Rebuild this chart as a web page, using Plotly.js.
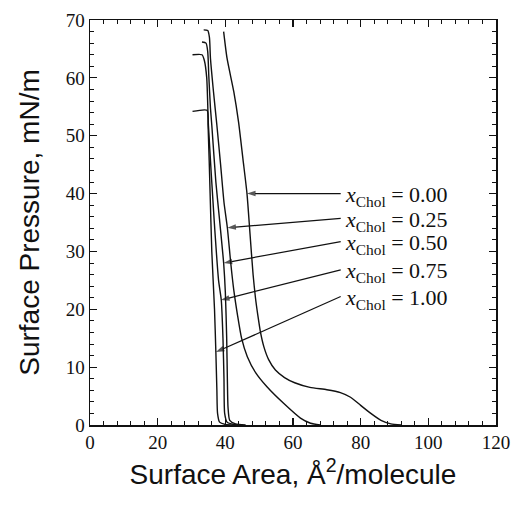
<!DOCTYPE html>
<html>
<head>
<meta charset="utf-8">
<script src="https://cdn.plot.ly/plotly-3.0.1.min.js"></script>
<style>html,body{margin:0;padding:0;background:#fff;}#chart{width:513px;height:505px;}</style>
</head>
<body>
<div id="chart"></div>
<script>
// Surface pressure–area isotherms (x_Chol series)
var seriesNames = ['0.00', '0.25', '0.50', '0.75', '1.00'];

var area000 = [39.5,40.5,42.5,43.9,45.2,46.4,47.3,48.2,48.9,49.6,50.4,51.4,52.8,54.8,57.5,60.5,65.0,70.0,74.0,77.0,80.0,83.0,86.0,88.9,92.0];
var pres000 = [68.0,63.4,57.6,52.4,46.0,40.0,33.0,26.0,22.0,19.0,16.0,13.5,11.3,9.5,8.2,7.3,6.5,6.1,5.6,4.8,3.4,2.0,0.8,0.2,0.0];

var area025 = [33.6,34.8,35.3,35.6,36.5,37.5,38.6,39.6,40.6,41.6,42.5,43.6,44.8,46.5,49.0,52.3,57.3,62.2,65.2,68.0];
var pres025 = [68.3,68.2,67.0,63.4,57.6,51.8,45.0,38.5,34.1,28.0,23.3,19.0,15.0,11.8,9.0,6.6,3.7,1.2,0.3,0.0];

var area050 = [33.1,34.3,34.8,35.1,35.6,36.0,37.2,38.3,39.5,40.0,40.4,40.6,40.8,41.3,43.0,46.0];
var pres050 = [66.2,66.0,64.5,60.5,54.8,51.8,42.0,35.4,28.0,23.0,15.0,8.0,3.0,0.8,0.2,0.0];

var area075 = [30.3,33.1,33.8,34.5,35.0,36.7,38.0,38.8,39.3,39.6,39.8,40.5,42.5,45.0];
var pres075 = [64.0,64.0,63.0,60.0,51.8,35.4,25.0,21.6,15.0,8.0,2.0,0.5,0.1,0.0];

var area100 = [30.3,34.6,34.9,35.5,36.0,36.8,37.2,37.5,37.7,38.3,40.0,43.0];
var pres100 = [54.2,54.4,51.8,40.0,30.0,20.0,12.6,6.0,2.0,0.5,0.1,0.0];

// arrow heads (on curves) and label anchor points
var arrowHeadX = [46.4, 40.6, 39.5, 38.7, 37.2];
var arrowHeadY = [40.0, 34.1, 28.0, 21.6, 12.6];
var arrowTailX = [74.1, 74.1, 74.1, 74.1, 74.1];
var arrowTailY = [40.0, 35.7, 31.7, 26.8, 22.2];

var xTickVals = [0, 20, 40, 60, 80, 100, 120];
var yTickVals = [0, 10, 20, 30, 40, 50, 60, 70];

var areas = [area000, area025, area050, area075, area100];
var press = [pres000, pres025, pres050, pres075, pres100];

var traces = seriesNames.map(function(n, i){
  return {
    x: areas[i], y: press[i], mode: 'lines', name: 'xChol = ' + n,
    line: {color: '#111', width: 1.4, shape: 'spline', smoothing: 0.6},
    hoverinfo: 'skip', showlegend: false
  };
});

// label arrows: line from label to curve, with an arrow-head marker at the curve end
seriesNames.forEach(function(n, i){
  traces.push({
    x: [arrowTailX[i], arrowHeadX[i]], y: [arrowTailY[i], arrowHeadY[i]],
    mode: 'lines+markers', hoverinfo: 'skip', showlegend: false,
    line: {color: '#111', width: 1.2},
    marker: {symbol: 'arrow', size: [0, 9], angleref: 'previous', color: '#111',
      line: {width: 0}}
  });
});

var annotations = seriesNames.map(function(n, i){
  return {
    x: arrowTailX[i] + 0.6, y: arrowTailY[i] - 0.4, xref: 'x', yref: 'y',
    xanchor: 'left', yanchor: 'middle', showarrow: false,
    text: '<i>x</i><sub>Chol</sub> = ' + n,
    font: {family: 'Liberation Serif, Times New Roman, serif', size: 22, color: '#111'}
  };
});

var axisCommon = {
  showgrid: false, zeroline: false, showline: true, linecolor: '#111', linewidth: 1.5,
  mirror: 'ticks', ticks: 'inside', ticklen: 7, tickwidth: 1.2, tickcolor: '#111',
  tickfont: {family: 'Liberation Serif, Times New Roman, serif', size: 19, color: '#111'}
};

var layout = {
  width: 513, height: 505,
  margin: {l: 90, r: 17, t: 20, b: 80},
  paper_bgcolor: '#fff', plot_bgcolor: '#fff',
  xaxis: Object.assign({}, axisCommon, {
    range: [0, 120], tickvals: xTickVals, ticktext: xTickVals.map(String),
    minor: {dtick: 4, ticks: 'inside', ticklen: 4, tickcolor: '#111', tickwidth: 1},
    title: {text: 'Surface Area, Å<sup>2</sup>/molecule', standoff: 12,
      font: {family: 'Liberation Sans, Arial, sans-serif', size: 28, color: '#111'}}
  }),
  yaxis: Object.assign({}, axisCommon, {
    range: [0, 70], tickvals: yTickVals, ticktext: yTickVals.map(String),
    minor: {dtick: 2, ticks: 'inside', ticklen: 4, tickcolor: '#111', tickwidth: 1},
    title: {text: 'Surface Pressure, mN/m', standoff: 18,
      font: {family: 'Liberation Sans, Arial, sans-serif', size: 28, color: '#111'}}
  }),
  annotations: annotations,
  showlegend: false
};

Plotly.newPlot('chart', traces, layout, {displayModeBar: false, staticPlot: true});
</script>
</body>
</html>
